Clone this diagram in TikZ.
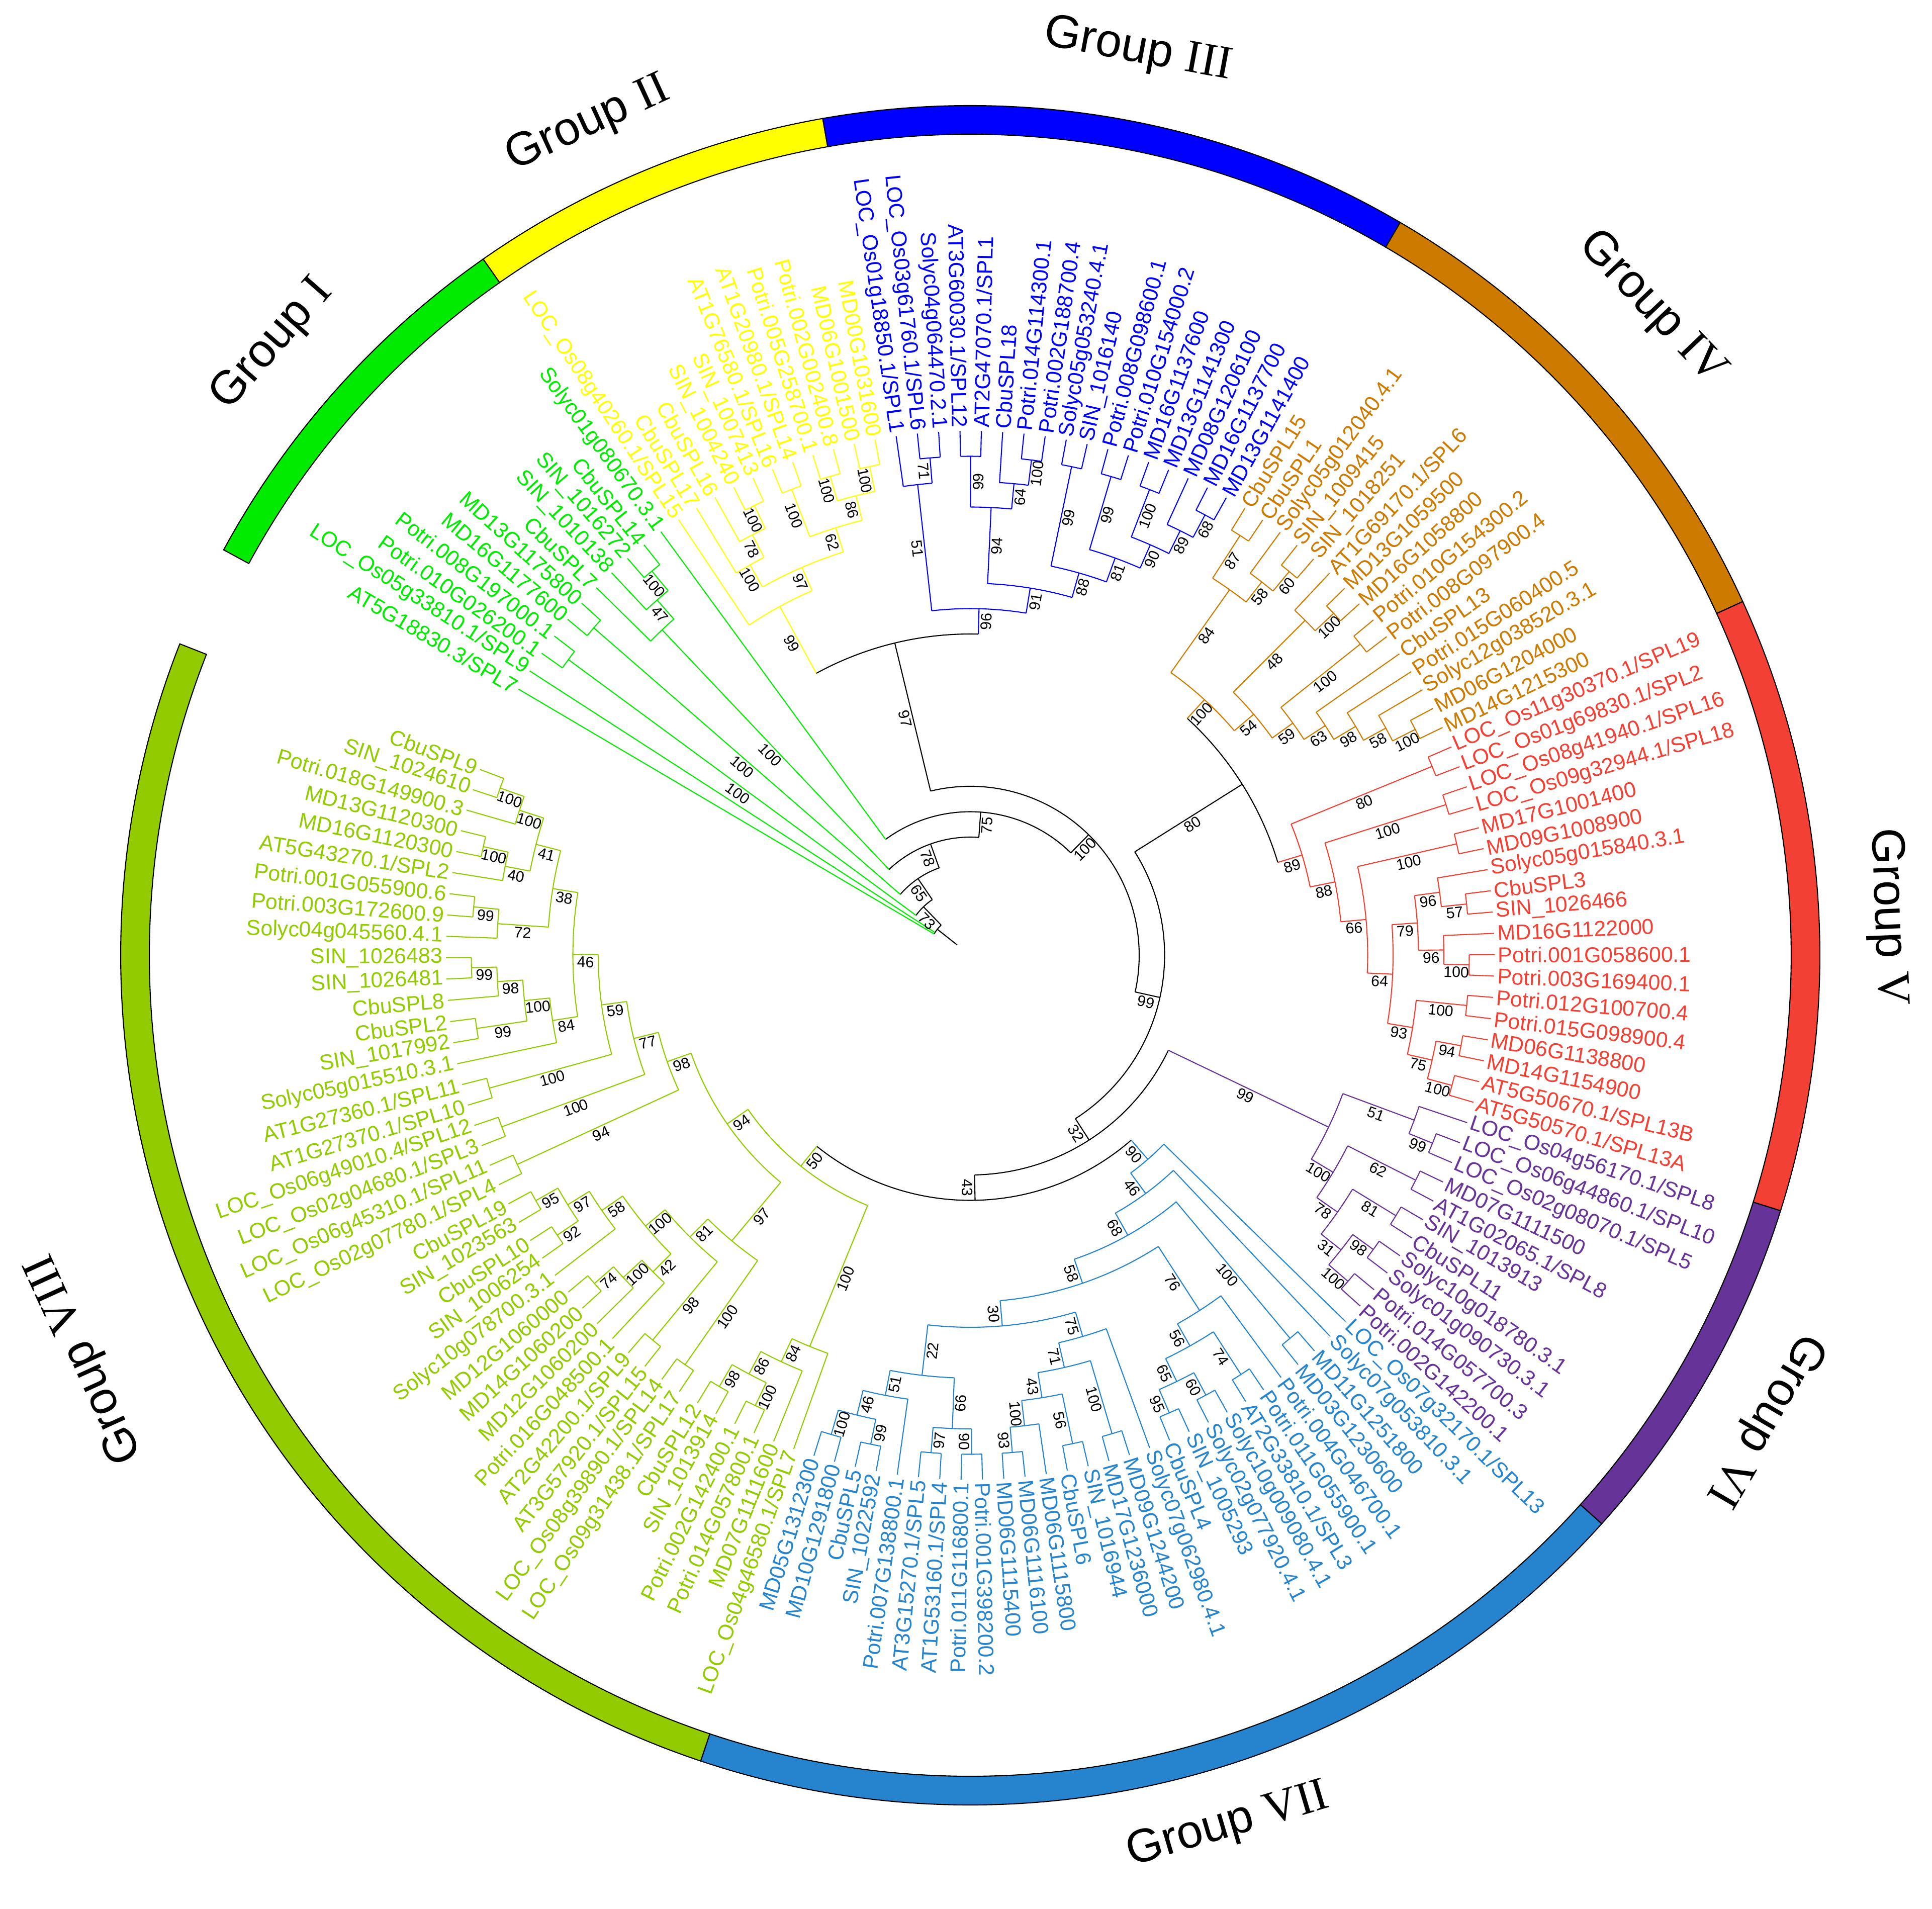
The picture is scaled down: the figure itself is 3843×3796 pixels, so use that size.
\documentclass[tikz,border=0pt]{standalone}
\usepackage{fontspec}
\setmainfont{Liberation Sans}
\newfontfamily\romfont{Liberation Serif}

\definecolor{gI}{RGB}{0,235,0}
\definecolor{gII}{RGB}{255,255,0}
\definecolor{gIII}{RGB}{0,0,255}
\definecolor{gIV}{RGB}{204,122,0}
\definecolor{gV}{RGB}{242,64,52}
\definecolor{gVI}{RGB}{102,51,153}
\definecolor{gVII}{RGB}{38,132,206}
\definecolor{gVIII}{RGB}{146,204,0}

\newcommand\rleaf{1043}
\newcommand\rstep{50.5}
\newcommand\rtext{1049}

\tikzset{
  branch/.style={line width=0.6pt},
  leaflab/.style={inner sep=0pt,font=\fontsize{12.2}{14}\selectfont},
  bslab/.style={inner sep=1pt,font=\fontsize{8.6}{10}\selectfont},
  ringseg/.style={draw=black,line width=0.6pt},
  grplab/.style={font=\fontsize{26.5}{30}\selectfont}
}

% leaf: name, position, text
\newcommand\mkleaf[3]{%
  \pgfmathsetmacro\lfA{149.5-2.335*#2}%
  \expandafter\xdef\csname a@#1\endcsname{\lfA}%
  \expandafter\xdef\csname h@#1\endcsname{0}%
  \expandafter\xdef\csname c@#1\endcsname{\grpcol}%
  \expandafter\xdef\csname b@#1\endcsname{}%
  \pgfmathparse{cos(\lfA)<0}%
  \ifdim\pgfmathresult pt>0.5pt
    \pgfmathsetmacro\lfR{\lfA+180}%
    \node[leaflab,text=\grpcol,anchor=east,rotate=\lfR] (#1) at (\lfA:\rtext) {#3};%
  \else
    \node[leaflab,text=\grpcol,anchor=west,rotate=\lfA] (#1) at (\lfA:\rtext) {#3};%
  \fi
}

% stem of a child, from its parent radius, with its bootstrap value
\newcommand\mkstem[2]{%
  \edef\stA{\csname a@#1\endcsname}%
  \edef\stH{\csname h@#1\endcsname}%
  \edef\stC{\csname c@#1\endcsname}%
  \edef\stB{\csname b@#1\endcsname}%
  \pgfmathsetmacro\stR{\rleaf-\rstep*\stH}%
  \draw[branch,draw=\stC] (\stA:#2) -- (\stA:\stR);
  \ifx\stB\empty\else
    \pgfmathsetmacro\stM{(#2+\stR)/2}%
    \pgfmathparse{cos(\stA)<0}%
    \ifdim\pgfmathresult pt>0.5pt
      \pgfmathsetmacro\stQ{\stA+180}%
    \else
      \edef\stQ{\stA}%
    \fi
    \node[bslab,rotate=\stQ,anchor=north] (b#1) at (\stA:\stM) {\stB};%
  \fi
}

% clade: name, first child, last child, bootstrap, colour
\newcommand\mkclade[5]{%
  \edef\clA{\csname a@#2\endcsname}%
  \edef\clB{\csname a@#3\endcsname}%
  \edef\clHa{\csname h@#2\endcsname}%
  \edef\clHb{\csname h@#3\endcsname}%
  \pgfmathsetmacro\clN{(\clA+\clB)/2}%
  \pgfmathsetmacro\clH{1+max(\clHa,\clHb)}%
  \pgfmathsetmacro\clR{\rleaf-\rstep*\clH}%
  \expandafter\xdef\csname a@#1\endcsname{\clN}%
  \expandafter\xdef\csname h@#1\endcsname{\clH}%
  \expandafter\xdef\csname c@#1\endcsname{#5}%
  \expandafter\xdef\csname b@#1\endcsname{#4}%
  \draw[branch,draw=#5] (\clA:\clR) arc[start angle=\clA,end angle=\clB,radius=\clR];
  \coordinate (#1) at (\clN:\clR);
  \mkstem{#2}{\clR}%
  \mkstem{#3}{\clR}%
}

% root with three children
\newcommand\mkroot[4]{%
  \edef\clA{\csname a@#2\endcsname}%
  \edef\clB{\csname a@#4\endcsname}%
  \edef\clHa{\csname h@#2\endcsname}%
  \edef\clHb{\csname h@#3\endcsname}%
  \edef\clHc{\csname h@#4\endcsname}%
  \pgfmathsetmacro\clN{(\clA+\clB)/2}%
  \pgfmathsetmacro\clH{1+max(\clHa,\clHb,\clHc)}%
  \pgfmathsetmacro\clR{\rleaf-\rstep*\clH}%
  \pgfmathsetmacro\clS{\clR-\rstep}%
  \draw[branch] (\clA:\clR) arc[start angle=\clA,end angle=\clB,radius=\clR];
  \draw[branch] (\clN:\clS) -- (\clN:\clR);
  \coordinate (#1) at (\clN:\clR);
  \mkstem{#2}{\clR}%
  \mkstem{#3}{\clR}%
  \mkstem{#4}{\clR}%
}

\begin{document}
\begin{tikzpicture}[x=0.01cm,y=0.01cm]

\useasboundingbox (-1930,-1896) rectangle (1913,1900);

% Group I
\def\grpcol{gI}
\mkleaf{l0}{0}{AT5G18830.3/SPL7}
\mkleaf{l1}{1}{LOC\_Os05g33810.1/SPL9}
\mkleaf{l2}{2}{Potri.010G026200.1}
\mkleaf{l3}{3}{Potri.008G197000.1}
\mkleaf{l4}{4}{MD16G1177600}
\mkleaf{l5}{5}{MD13G1175800}
\mkleaf{l6}{6}{CbuSPL7}
\mkleaf{l7}{7}{SIN\_1010138}
\mkleaf{l8}{8}{SIN\_1016272}
\mkleaf{l9}{9}{CbuSPL14}
\mkleaf{l10}{10}{Solyc01g080670.3.1}

\mkclade{P1}{l2}{l3}{100}{gI}
\mkclade{P2}{l4}{l5}{100}{gI}
\mkclade{P3}{l8}{l9}{100}{gI}
\mkclade{P4}{l7}{P3}{47}{gI}
\mkclade{P5}{l6}{P4}{100}{gI}

% Group II
\def\grpcol{gII}
\mkleaf{l11}{11}{LOC\_Os08g40260.1/SPL15}
\mkleaf{l12}{12}{CbuSPL17}
\mkleaf{l13}{13}{CbuSPL16}
\mkleaf{l14}{14}{SIN\_1004240}
\mkleaf{l15}{15}{SIN\_1007413}
\mkleaf{l16}{16}{AT1G76580.1/SPL16}
\mkleaf{l17}{17}{AT1G20980.1/SPL14}
\mkleaf{l18}{18}{Potri.005G258700.1}
\mkleaf{l19}{19}{Potri.002G002400.8}
\mkleaf{l20}{20}{MD06G1001500}
\mkleaf{l21}{21}{MD00G1031600}

\mkclade{Q1}{l14}{l15}{100}{gII}
\mkclade{Q2}{l13}{Q1}{78}{gII}
\mkclade{Q3}{l12}{Q2}{100}{gII}
\mkclade{Q4}{l16}{l17}{100}{gII}
\mkclade{Q5}{l18}{l19}{100}{gII}
\mkclade{Q6}{l20}{l21}{100}{gII}
\mkclade{Q7}{Q5}{Q6}{86}{gII}
\mkclade{Q8}{Q4}{Q7}{62}{gII}
\mkclade{Q9}{Q3}{Q8}{97}{gII}
\mkclade{Q10}{l11}{Q9}{99}{gII}

% Group III
\def\grpcol{gIII}
\mkleaf{l22}{22}{LOC\_Os01g18850.1/SPL1}
\mkleaf{l23}{23}{LOC\_Os03g61760.1/SPL6}
\mkleaf{l24}{24}{Solyc04g064470.2.1}
\mkleaf{l25}{25}{AT3G60030.1/SPL12}
\mkleaf{l26}{26}{AT2G47070.1/SPL1}
\mkleaf{l27}{27}{CbuSPL18}
\mkleaf{l28}{28}{Potri.014G114300.1}
\mkleaf{l29}{29}{Potri.002G188700.4}
\mkleaf{l30}{30}{Solyc05g053240.4.1}
\mkleaf{l31}{31}{SIN\_1016140}
\mkleaf{l32}{32}{Potri.008G098600.1}
\mkleaf{l33}{33}{Potri.010G154000.2}
\mkleaf{l34}{34}{MD16G1137600}
\mkleaf{l35}{35}{MD13G1141300}
\mkleaf{l36}{36}{MD08G1206100}
\mkleaf{l37}{37}{MD16G1137700}
\mkleaf{l38}{38}{MD13G1141400}

\mkclade{T1}{l23}{l24}{71}{gIII}
\mkclade{T2}{l22}{T1}{51}{gIII}
\mkclade{T3}{l25}{l26}{99}{gIII}
\mkclade{T4}{l28}{l29}{100}{gIII}
\mkclade{T5}{l27}{T4}{64}{gIII}
\mkclade{T6}{T3}{T5}{94}{gIII}
\mkclade{T7}{l30}{l31}{99}{gIII}
\mkclade{T8}{l32}{l33}{99}{gIII}
\mkclade{T9}{l34}{l35}{100}{gIII}
\mkclade{T10}{l37}{l38}{68}{gIII}
\mkclade{T11}{l36}{T10}{89}{gIII}
\mkclade{T12}{T9}{T11}{90}{gIII}
\mkclade{T13}{T8}{T12}{81}{gIII}
\mkclade{T14}{T7}{T13}{88}{gIII}
\mkclade{T15}{T6}{T14}{91}{gIII}
\mkclade{T16}{T2}{T15}{96}{gIII}

% Group IV
\def\grpcol{gIV}
\mkleaf{l39}{39}{CbuSPL15}
\mkleaf{l40}{40}{CbuSPL1}
\mkleaf{l41}{41}{Solyc05g012040.4.1}
\mkleaf{l42}{42}{SIN\_1009415}
\mkleaf{l43}{43}{SIN\_1018251}
\mkleaf{l44}{44}{AT1G69170.1/SPL6}
\mkleaf{l45}{45}{MD13G1059500}
\mkleaf{l46}{46}{MD16G1058800}
\mkleaf{l47}{47}{Potri.010G154300.2}
\mkleaf{l48}{48}{Potri.008G097900.4}
\mkleaf{l49}{49}{CbuSPL13}
\mkleaf{l50}{50}{Potri.015G060400.5}
\mkleaf{l51}{51}{Solyc12g038520.3.1}
\mkleaf{l52}{52}{MD06G1204000}
\mkleaf{l53}{53}{MD14G1215300}

\mkclade{F1}{l39}{l40}{87}{gIV}
\mkclade{F2}{l42}{l43}{60}{gIV}
\mkclade{F3}{l41}{F2}{58}{gIV}
\mkclade{F4}{F1}{F3}{84}{gIV}
\mkclade{F5}{l45}{l46}{100}{gIV}
\mkclade{F6}{l44}{F5}{48}{gIV}
\mkclade{FP}{l47}{l48}{100}{gIV}
\mkclade{F7}{l52}{l53}{100}{gIV}
\mkclade{F8}{l51}{F7}{58}{gIV}
\mkclade{F9}{l50}{F8}{98}{gIV}
\mkclade{F10}{l49}{F9}{63}{gIV}
\mkclade{F11}{FP}{F10}{59}{gIV}
\mkclade{F12}{F6}{F11}{54}{gIV}
\mkclade{F13}{F4}{F12}{100}{gIV}

% Group V
\def\grpcol{gV}
\mkleaf{l54}{54}{LOC\_Os11g30370.1/SPL19}
\mkleaf{l55}{55}{LOC\_Os01g69830.1/SPL2}
\mkleaf{l56}{56}{LOC\_Os08g41940.1/SPL16}
\mkleaf{l57}{57}{LOC\_Os09g32944.1/SPL18}
\mkleaf{l58}{58}{MD17G1001400}
\mkleaf{l59}{59}{MD09G1008900}
\mkleaf{l60}{60}{Solyc05g015840.3.1}
\mkleaf{l61}{61}{CbuSPL3}
\mkleaf{l62}{62}{SIN\_1026466}
\mkleaf{l63}{63}{MD16G1122000}
\mkleaf{l64}{64}{Potri.001G058600.1}
\mkleaf{l65}{65}{Potri.003G169400.1}
\mkleaf{l66}{66}{Potri.012G100700.4}
\mkleaf{l67}{67}{Potri.015G098900.4}
\mkleaf{l68}{68}{MD06G1138800}
\mkleaf{l69}{69}{MD14G1154900}
\mkleaf{l70}{70}{AT5G50670.1/SPL13B}
\mkleaf{l71}{71}{AT5G50570.1/SPL13A}

\mkclade{V1}{l54}{l55}{80}{gV}
\mkclade{V2}{l56}{l57}{100}{gV}
\mkclade{V3}{l58}{l59}{100}{gV}
\mkclade{V4}{l61}{l62}{57}{gV}
\mkclade{V5}{l60}{V4}{96}{gV}
\mkclade{V6}{l64}{l65}{100}{gV}
\mkclade{V7}{l63}{V6}{96}{gV}
\mkclade{V8}{V5}{V7}{79}{gV}
\mkclade{V9}{l66}{l67}{100}{gV}
\mkclade{V10}{l68}{l69}{94}{gV}
\mkclade{V11}{l70}{l71}{100}{gV}
\mkclade{V12}{V10}{V11}{75}{gV}
\mkclade{V13}{V9}{V12}{93}{gV}
\mkclade{V14}{V8}{V13}{64}{gV}
\mkclade{V15}{V3}{V14}{66}{gV}
\mkclade{V16}{V2}{V15}{88}{gV}
\mkclade{V17}{V1}{V16}{89}{gV}

% Group VI
\def\grpcol{gVI}
\mkleaf{l72}{72}{LOC\_Os04g56170.1/SPL8}
\mkleaf{l73}{73}{LOC\_Os06g44860.1/SPL10}
\mkleaf{l74}{74}{LOC\_Os02g08070.1/SPL5}
\mkleaf{l75}{75}{MD07G1111500}
\mkleaf{l76}{76}{AT1G02065.1/SPL8}
\mkleaf{l77}{77}{SIN\_1013913}
\mkleaf{l78}{78}{CbuSPL11}
\mkleaf{l79}{79}{Solyc10g018780.3.1}
\mkleaf{l80}{80}{Solyc01g090730.3.1}
\mkleaf{l81}{81}{Potri.014G057700.3}
\mkleaf{l82}{82}{Potri.002G142200.1}

\mkclade{S1}{l73}{l74}{99}{gVI}
\mkclade{S2}{l72}{S1}{51}{gVI}
\mkclade{S3}{l75}{l76}{62}{gVI}
\mkclade{S4}{l77}{l78}{81}{gVI}
\mkclade{S5}{l79}{l80}{98}{gVI}
\mkclade{S6}{l81}{l82}{100}{gVI}
\mkclade{S7}{S5}{S6}{31}{gVI}
\mkclade{S8}{S4}{S7}{78}{gVI}
\mkclade{S9}{S3}{S8}{100}{gVI}
\mkclade{S10}{S2}{S9}{99}{gVI}

% Group VII
\def\grpcol{gVII}
\mkleaf{l83}{83}{LOC\_Os07g32170.1/SPL13}
\mkleaf{l84}{84}{Solyc07g053810.3.1}
\mkleaf{l85}{85}{MD11G1251800}
\mkleaf{l86}{86}{MD03G1230600}
\mkleaf{l87}{87}{Potri.004G046700.1}
\mkleaf{l88}{88}{Potri.011G055900.1}
\mkleaf{l89}{89}{AT2G33810.1/SPL3}
\mkleaf{l90}{90}{Solyc10g009080.4.1}
\mkleaf{l91}{91}{Solyc02g077920.4.1}
\mkleaf{l92}{92}{SIN\_1005293}
\mkleaf{l93}{93}{CbuSPL4}
\mkleaf{l94}{94}{Solyc07g062980.4.1}
\mkleaf{l95}{95}{MD09G1244200}
\mkleaf{l96}{96}{MD17G1236000}
\mkleaf{l97}{97}{SIN\_1016944}
\mkleaf{l98}{98}{CbuSPL6}
\mkleaf{l99}{99}{MD06G1115800}
\mkleaf{l100}{100}{MD06G1116100}
\mkleaf{l101}{101}{MD06G1115400}
\mkleaf{l102}{102}{Potri.001G398200.2}
\mkleaf{l103}{103}{Potri.011G116800.1}
\mkleaf{l104}{104}{AT1G53160.1/SPL4}
\mkleaf{l105}{105}{AT3G15270.1/SPL5}
\mkleaf{l106}{106}{Potri.007G138800.1}
\mkleaf{l107}{107}{SIN\_1022592}
\mkleaf{l108}{108}{CbuSPL5}
\mkleaf{l109}{109}{MD10G1291800}
\mkleaf{l110}{110}{MD05G1312300}

\mkclade{W1}{l85}{l86}{100}{gVII}
\mkclade{G6}{l88}{l89}{74}{gVII}
\mkclade{G4}{l90}{l91}{60}{gVII}
\mkclade{G3}{l92}{l93}{95}{gVII}
\mkclade{G5}{G4}{G3}{65}{gVII}
\mkclade{Wd2}{G6}{G5}{56}{gVII}
\mkclade{Wd}{l87}{Wd2}{76}{gVII}
\mkclade{X1}{l100}{l101}{93}{gVII}
\mkclade{X2}{l99}{X1}{100}{gVII}
\mkclade{X3}{l97}{l98}{56}{gVII}
\mkclade{X4}{X3}{X2}{43}{gVII}
\mkclade{X5}{l95}{l96}{100}{gVII}
\mkclade{X6}{X5}{X4}{71}{gVII}
\mkclade{Wf}{l94}{X6}{75}{gVII}
\mkclade{Y1}{l102}{l103}{90}{gVII}
\mkclade{Y2}{l104}{l105}{97}{gVII}
\mkclade{Y3}{Y1}{Y2}{66}{gVII}
\mkclade{Z1}{l107}{l108}{99}{gVII}
\mkclade{Z2}{l109}{l110}{100}{gVII}
\mkclade{Z3}{Z1}{Z2}{46}{gVII}
\mkclade{Z4}{l106}{Z3}{51}{gVII}
\mkclade{Wg}{Y3}{Z4}{22}{gVII}
\mkclade{We}{Wf}{Wg}{30}{gVII}
\mkclade{Wc}{Wd}{We}{58}{gVII}
\mkclade{Wb}{W1}{Wc}{68}{gVII}
\mkclade{Wa}{l84}{Wb}{46}{gVII}
\mkclade{W0}{l83}{Wa}{90}{gVII}

% Group VIII
\def\grpcol{gVIII}
\mkleaf{l111}{111}{LOC\_Os04g46580.1/SPL7}
\mkleaf{l112}{112}{MD07G1111600}
\mkleaf{l113}{113}{Potri.014G057800.1}
\mkleaf{l114}{114}{Potri.002G142400.1}
\mkleaf{l115}{115}{SIN\_1013914}
\mkleaf{l116}{116}{CbuSPL12}
\mkleaf{l117}{117}{LOC\_Os09g31438.1/SPL17}
\mkleaf{l118}{118}{LOC\_Os08g39890.1/SPL14}
\mkleaf{l119}{119}{AT3G57920.1/SPL15}
\mkleaf{l120}{120}{AT2G42200.1/SPL9}
\mkleaf{l121}{121}{Potri.016G048500.1}
\mkleaf{l122}{122}{MD12G1060200}
\mkleaf{l123}{123}{MD14G1060200}
\mkleaf{l124}{124}{MD12G1060000}
\mkleaf{l125}{125}{Solyc10g078700.3.1}
\mkleaf{l126}{126}{SIN\_1006254}
\mkleaf{l127}{127}{CbuSPL10}
\mkleaf{l128}{128}{SIN\_1023563}
\mkleaf{l129}{129}{CbuSPL19}
\mkleaf{l130}{130}{LOC\_Os02g07780.1/SPL4}
\mkleaf{l131}{131}{LOC\_Os06g45310.1/SPL11}
\mkleaf{l132}{132}{LOC\_Os02g04680.1/SPL3}
\mkleaf{l133}{133}{LOC\_Os06g49010.4/SPL12}
\mkleaf{l134}{134}{AT1G27370.1/SPL10}
\mkleaf{l135}{135}{AT1G27360.1/SPL11}
\mkleaf{l136}{136}{Solyc05g015510.3.1}
\mkleaf{l137}{137}{SIN\_1017992}
\mkleaf{l138}{138}{CbuSPL2}
\mkleaf{l139}{139}{CbuSPL8}
\mkleaf{l140}{140}{SIN\_1026481}
\mkleaf{l141}{141}{SIN\_1026483}
\mkleaf{l142}{142}{Solyc04g045560.4.1}
\mkleaf{l143}{143}{Potri.003G172600.9}
\mkleaf{l144}{144}{Potri.001G055900.6}
\mkleaf{l145}{145}{AT5G43270.1/SPL2}
\mkleaf{l146}{146}{MD16G1120300}
\mkleaf{l147}{147}{MD13G1120300}
\mkleaf{l148}{148}{Potri.018G149900.3}
\mkleaf{l149}{149}{SIN\_1024610}
\mkleaf{l150}{150}{CbuSPL9}

\mkclade{U33}{l115}{l116}{98}{gVIII}
\mkclade{U34}{l113}{l114}{100}{gVIII}
\mkclade{U35}{U34}{U33}{86}{gVIII}
\mkclade{U36}{l112}{U35}{84}{gVIII}
\mkclade{U37}{l111}{U36}{100}{gVIII}
\mkclade{U31}{l117}{l118}{100}{gVIII}
\mkclade{U29}{l119}{l120}{98}{gVIII}
\mkclade{U25}{l123}{l124}{74}{gVIII}
\mkclade{U26}{l122}{U25}{100}{gVIII}
\mkclade{U27}{l121}{U26}{42}{gVIII}
\mkclade{U22}{l126}{l127}{92}{gVIII}
\mkclade{U21}{l128}{l129}{95}{gVIII}
\mkclade{U23}{U22}{U21}{97}{gVIII}
\mkclade{U24}{l125}{U23}{58}{gVIII}
\mkclade{U28}{U27}{U24}{100}{gVIII}
\mkclade{U30}{U29}{U28}{81}{gVIII}
\mkclade{U32}{U31}{U30}{97}{gVIII}
\mkclade{U19}{l130}{l131}{94}{gVIII}
\mkclade{U17}{l132}{l133}{100}{gVIII}
\mkclade{U15}{l134}{l135}{100}{gVIII}
\mkclade{U11}{l137}{l138}{99}{gVIII}
\mkclade{U9}{l140}{l141}{99}{gVIII}
\mkclade{U10}{l139}{U9}{98}{gVIII}
\mkclade{U12}{U11}{U10}{100}{gVIII}
\mkclade{U13}{l136}{U12}{84}{gVIII}
\mkclade{U6}{l143}{l144}{99}{gVIII}
\mkclade{U7}{l142}{U6}{72}{gVIII}
\mkclade{U3}{l146}{l147}{100}{gVIII}
\mkclade{U4}{l145}{U3}{40}{gVIII}
\mkclade{U1}{l149}{l150}{100}{gVIII}
\mkclade{U2}{l148}{U1}{100}{gVIII}
\mkclade{U5}{U4}{U2}{41}{gVIII}
\mkclade{U8}{U7}{U5}{38}{gVIII}
\mkclade{U14}{U13}{U8}{46}{gVIII}
\mkclade{U16}{U15}{U14}{59}{gVIII}
\mkclade{U18}{U17}{U16}{77}{gVIII}
\mkclade{U20}{U19}{U18}{98}{gVIII}
\mkclade{UX}{U32}{U20}{94}{gVIII}
\mkclade{U0}{U37}{UX}{50}{gVIII}

% backbone
\mkclade{N97}{Q10}{T16}{97}{black}
\mkclade{N80}{F13}{V17}{80}{black}
\mkclade{N9}{W0}{U0}{43}{black}
\mkclade{N8}{S10}{N9}{32}{black}
\mkclade{N7}{N80}{N8}{99}{black}
\mkclade{N6}{N97}{N7}{100}{black}
\mkclade{N5}{l10}{N6}{75}{black}
\mkclade{N4}{P5}{N5}{78}{black}
\mkclade{N3}{P2}{N4}{65}{black}
\mkclade{N2}{P1}{N3}{73}{black}
\mkroot{R}{l0}{l1}{N2}

% outer ring
\foreach \sega/\segb/\segc in {151.5/124.98/gI, 124.98/100/gII, 100/59.6/gIII,
    59.6/24.6/gIV, 24.6/-17.5/gV, -17.5/-42/gVI, -42/-108.5/gVII, -108.5/-201.5/gVIII}
  \draw[ringseg,fill=\segc] (\sega:1633) arc[start angle=\sega,end angle=\segb,radius=1633]
    -- (\segb:1690) arc[start angle=\segb,end angle=\sega,radius=1690] -- cycle;

\node[grplab,rotate=48.8] (grpI) at (138.8:1845) {Group {\romfont I}};
\node[grplab,rotate=24.7] (grpII) at (114.7:1820) {Group {\romfont II}};
\node[grplab,rotate=-10.5] (grpIII) at (79.5:1830) {Group {\romfont III}};
\node[grplab,rotate=-46.5] (grpIV) at (43.5:1870) {Group {\romfont IV}};
\node[grplab,rotate=-87.6] (grpV) at (2.4:1825) {Group {\romfont V}};
\node[grplab,rotate=-120.3] (grpVI) at (-30.3:1830) {Group {\romfont VI}};
\node[grplab,rotate=16.5] (grpVII) at (-73.5:1805) {Group {\romfont VII}};
\node[grplab,rotate=114.5] (grpVIII) at (-155.5:1935) {Group {\romfont VIII}};

\end{tikzpicture}
\end{document}
